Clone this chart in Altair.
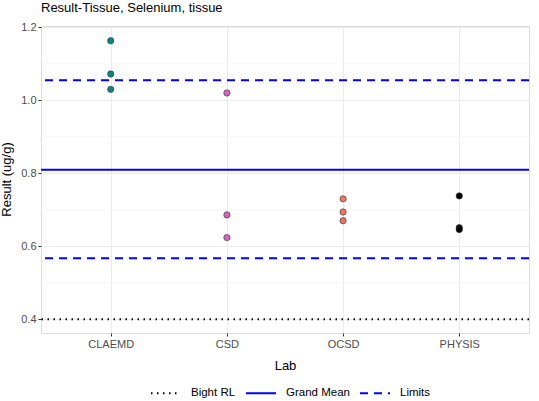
import altair as alt
import pandas as pd

# Data
labs = ["CLAEMD", "CLAEMD", "CLAEMD", "CSD", "CSD", "CSD",
        "OCSD", "OCSD", "OCSD", "PHYSIS", "PHYSIS", "PHYSIS"]
results = [1.163, 1.072, 1.030, 1.020, 0.686, 0.624,
           0.730, 0.694, 0.670, 0.738, 0.651, 0.646]
lab_order = ["CLAEMD", "CSD", "OCSD", "PHYSIS"]
lab_colors = ["#0e8583", "#d462c8", "#f07565", "#000000"]

ref_types = ["Bight RL", "Grand Mean", "Limits", "Limits"]
ref_values = [0.4, 0.810, 1.055, 0.567]
ref_order = ["Bight RL", "Grand Mean", "Limits"]

y_ticks = [0.4, 0.6, 0.8, 1.0, 1.2]
y_minor = [0.5, 0.7, 0.9, 1.1]

pts = pd.DataFrame({"Lab": labs, "Result": results})
refs = pd.DataFrame({"type": ref_types, "value": ref_values})
minor = pd.DataFrame({"v": y_minor})

FONT = "Liberation Sans"
ydom = [0.3625, 1.2035]
yscale = alt.Scale(domain=ydom, nice=False, zero=False)

legend_cfg = dict(title=None, orient="none", direction="horizontal",
                  legendX=109, legendY=351,
                  symbolType="stroke", symbolSize=900,
                  symbolStrokeWidth=2, labelFontSize=11.5,
                  labelFont=FONT, labelColor="black",
                  labelOffset=9, columnPadding=6)

minor_layer = alt.Chart(minor).mark_rule(color="#f2f2f2", strokeWidth=0.8).encode(
    y=alt.Y("v:Q", scale=yscale)
)

ref_layer = alt.Chart(refs).mark_rule(strokeWidth=2).encode(
    y=alt.Y("value:Q", scale=yscale),
    color=alt.Color("type:N",
                    scale=alt.Scale(domain=ref_order, range=["black", "blue", "blue"]),
                    legend=alt.Legend(**legend_cfg)),
    strokeDash=alt.StrokeDash("type:N",
                              scale=alt.Scale(domain=ref_order,
                                              range=[[1.5, 4.5], [1, 0], [8, 6]]),
                              legend=alt.Legend(**legend_cfg)),
)

pt_layer = alt.Chart(pts).mark_circle(size=40, stroke="#333333", strokeWidth=0.6, opacity=1).encode(
    x=alt.X("Lab:N", sort=lab_order,
            scale=alt.Scale(type="point", domain=lab_order, padding=0.6),
            axis=alt.Axis(title="Lab", labelFont=FONT, labelFontSize=11, labelColor="#4d4d4d",
                          titleFont=FONT, titleFontSize=13, titleFontWeight="normal",
                          titleColor="black", tickSize=3, tickColor="#333333",
                          labelPadding=2, titlePadding=10, domain=False,
                          grid=True, gridColor="#ebebeb", labelAngle=0)),
    y=alt.Y("Result:Q", scale=yscale,
            axis=alt.Axis(title="Result (ug/g)", values=y_ticks, format=".1f",
                          labelFont=FONT, labelFontSize=11, labelColor="#4d4d4d",
                          titleFont=FONT, titleFontSize=13, titleFontWeight="normal",
                          titleColor="black", tickSize=3, tickColor="#333333",
                          labelPadding=2, domain=False, grid=True, gridColor="#ebebeb",
                          titleX=-28, titleY=153)),
    fill=alt.Fill("Lab:N", scale=alt.Scale(domain=lab_order, range=lab_colors), legend=None),
)

chart = alt.layer(minor_layer, pt_layer, ref_layer).properties(
    width=488, height=307,
    title=alt.TitleParams("Result-Tissue, Selenium, tissue", anchor="start", font=FONT,
                          fontSize=13, fontWeight="normal", color="black", offset=6,
                          frame="group"),
    autosize=alt.AutoSizeParams(type="none"),
    padding={"left": 41, "top": 26, "right": 10, "bottom": 68},
).configure_view(stroke="#a6a6a6", strokeWidth=1).configure(background="white")

chart.save("out.html", embed_options={"renderer": "svg", "actions": False})
